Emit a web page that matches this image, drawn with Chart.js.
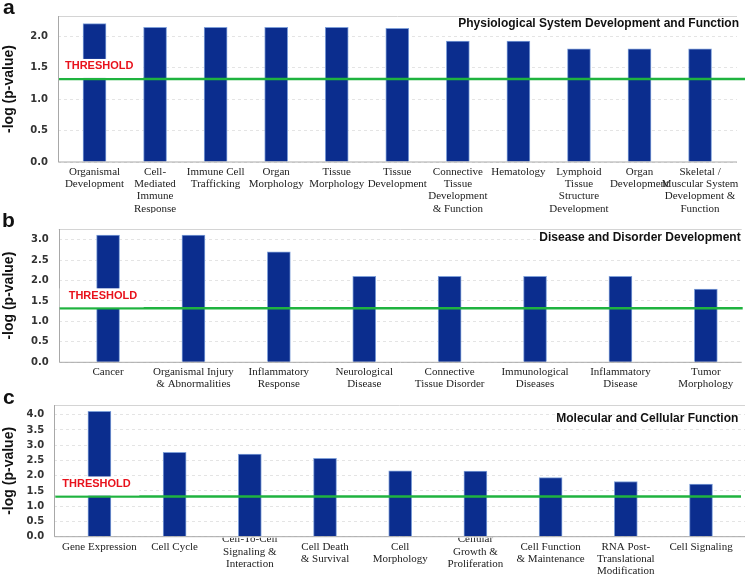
<!DOCTYPE html>
<html>
<head>
<meta charset="utf-8">
<title>-log (p-value) by category</title>
<script src="https://cdn.jsdelivr.net/npm/chart.js@4.4.1/dist/chart.umd.min.js"></script>
<style>
    html, body { margin: 0; padding: 0; background: #fff; }
    #wrap { position: relative; width: 750px; height: 579px; overflow: hidden; }
    canvas { position: absolute; left: 0; }
</style>
</head>
<body>
<div id="wrap">
    <canvas id="chartA" width="750" height="213" style="top:0px"></canvas>
    <canvas id="chartB" width="750" height="176" style="top:213px"></canvas>
    <canvas id="chartC" width="750" height="190" style="top:389px"></canvas>
</div>
<script>
// Dados
const physioLabels = [
    ['Organismal', 'Development'],
    ['Cell-', 'Mediated', 'Immune', 'Response'],
    ['Immune Cell', 'Trafficking'],
    ['Organ', 'Morphology'],
    ['Tissue', 'Morphology'],
    ['Tissue', 'Development'],
    ['Connective', 'Tissue', 'Development', '& Function'],
    ['Hematology'],
    ['Lymphoid', 'Tissue', 'Structure', 'Development'],
    ['Organ', 'Development'],
    ['Skeletal /', 'Muscular System', 'Development &', 'Function']
];
const physioValues = [2.20, 2.14, 2.14, 2.14, 2.14, 2.125, 1.92, 1.92, 1.80, 1.80, 1.80];
const physioTicks = [0, 0.5, 1.0, 1.5, 2.0];

const diseaseLabels = [
    ['Cancer'],
    ['Organismal Injury', '& Abnormalities'],
    ['Inflammatory', 'Response'],
    ['Neurological', 'Disease'],
    ['Connective', 'Tissue Disorder'],
    ['Immunological', 'Diseases'],
    ['Inflammatory', 'Disease'],
    ['Tumor', 'Morphology']
];
const diseaseValues = [3.11, 3.11, 2.70, 2.10, 2.10, 2.10, 2.10, 1.79];
const diseaseTicks = [0, 0.5, 1.0, 1.5, 2.0, 2.5, 3.0];

const molecularLabels = [
    ['Gene Expression'],
    ['Cell Cycle'],
    ['Cell-To-Cell', 'Signaling &', 'Interaction'],
    ['Cell Death', '& Survival'],
    ['Cell', 'Morphology'],
    ['Cellular', 'Growth &', 'Proliferation'],
    ['Cell Function', '& Maintenance'],
    ['RNA Post-', 'Translational', 'Modification'],
    ['Cell Signaling']
];
const molecularValues = [4.11, 2.77, 2.71, 2.57, 2.16, 2.15, 1.94, 1.81, 1.73];
const molecularTicks = [0, 0.5, 1.0, 1.5, 2.0, 2.5, 3.0, 3.5, 4.0];

const thresholdValue = 1.32;

// Desenho extra: moldura, limiar, títulos e rótulos do eixo x
const decorPlugin = {
    id: 'decor',
    afterDatasetsDraw(chart, args, opts) {
        const ctx = chart.ctx;
        const area = chart.chartArea;
        const y = chart.scales.y;

        ctx.save();
        // moldura
        ctx.lineWidth = 1;
        ctx.strokeStyle = '#d4d4d4';
        ctx.beginPath();
        ctx.moveTo(area.left, Math.round(area.top) + 0.5);
        ctx.lineTo(area.right, Math.round(area.top) + 0.5);
        ctx.stroke();
        ctx.strokeStyle = '#a8a8a8';
        ctx.beginPath();
        ctx.moveTo(Math.round(area.left) + 0.5, area.top);
        ctx.lineTo(Math.round(area.left) + 0.5, area.bottom);
        ctx.lineTo(area.right, area.bottom);
        ctx.stroke();

        // linha de limiar
        const ty = y.getPixelForValue(thresholdValue);
        ctx.strokeStyle = '#1fb33f';
        ctx.lineWidth = 2.5;
        ctx.beginPath();
        ctx.moveTo(area.left + 1, ty);
        ctx.lineTo(area.right + opts.lineExtra, ty);
        ctx.stroke();

        // caixa branca atrás do texto THRESHOLD
        ctx.fillStyle = '#ffffff';
        ctx.fillRect(area.left + 1, ty - 20, 84, 19);
        ctx.fillStyle = '#e8121c';
        ctx.font = 'bold 11px "Liberation Sans", Arial, sans-serif';
        ctx.textAlign = 'left';
        ctx.textBaseline = 'middle';
        ctx.fillText('THRESHOLD', area.left + opts.threshX, ty - 12.5);

        // título do painel
        ctx.fillStyle = '#111';
        ctx.font = 'bold 12px "Liberation Sans", Arial, sans-serif';
        ctx.textAlign = 'right';
        ctx.fillText(opts.title, opts.titleX, opts.titleY);

        // letra do painel
        ctx.font = 'bold 21px "Liberation Sans", Arial, sans-serif';
        ctx.textAlign = 'left';
        ctx.textBaseline = 'alphabetic';
        ctx.fillText(opts.letter, opts.letterX, opts.letterY);
        ctx.restore();
    },
    afterDraw(chart, args, opts) {
        const ctx = chart.ctx;
        const area = chart.chartArea;
        const x = chart.scales.x;
        const lineH = 12.3;

        ctx.save();
        ctx.font = '11px "Liberation Serif", "Times New Roman", serif';
        ctx.fillStyle = '#222';
        ctx.textAlign = 'center';
        ctx.textBaseline = 'middle';
        opts.labels.forEach((lines, i) => {
            const px = x.getPixelForValue(i);
            const raised = opts.raised.includes(i);
            const y0 = area.bottom + (raised ? 2.7 : 10);
            ctx.save();
            ctx.beginPath();
            ctx.rect(0, area.bottom + 1, chart.width, chart.height);
            ctx.clip();
            lines.forEach((line, k) => {
                ctx.fillText(line, px, y0 + k * lineH);
            });
            ctx.restore();
        });
        ctx.restore();
    }
};

function makePanel(canvasId, labels, values, ticks, panel) {
    const canvas = document.getElementById(canvasId);
    const a = panel.area;
    return new Chart(canvas, {
        type: 'bar',
        data: {
            datasets: [{
                data: values.map((v, i) => ({ x: i, y: v })),
                backgroundColor: '#0b2d8e',
                borderColor: '#7f9fd8',
                borderWidth: { left: 1, right: 1, top: 1, bottom: 0 },
                barThickness: 23
            }]
        },
        options: {
            responsive: false,
            animation: false,
            devicePixelRatio: 1,
            layout: {
                padding: {
                    left: 0,
                    top: a.top,
                    right: canvas.width - a.right,
                    bottom: canvas.height - a.bottom
                }
            },
            scales: {
                x: {
                    type: 'linear',
                    display: false,
                    offset: false,
                    min: panel.xMin,
                    max: panel.xMax
                },
                y: {
                    min: 0,
                    max: panel.yMax,
                    afterFit: (scale) => { scale.width = a.left; },
                    afterBuildTicks: (scale) => { scale.ticks = ticks.map(v => ({ value: v })); },
                    grid: { color: '#e4e4e4', drawTicks: false },
                    border: { display: false, dash: [3, 3] },
                    ticks: {
                        padding: 10,
                        color: '#333',
                        font: { family: '"DejaVu Sans", Verdana, sans-serif', size: 10, weight: 'bold' },
                        callback: (v) => Number(v).toFixed(1)
                    },
                    title: {
                        display: true,
                        text: '-log (p-value)',
                        color: '#111',
                        padding: { top: 1, bottom: 0 },
                        font: { family: '"Liberation Sans", Arial, sans-serif', size: 14, weight: 'bold' }
                    }
                }
            },
            plugins: {
                legend: { display: false },
                tooltip: { enabled: false },
                decor: {
                    labels: labels,
                    raised: panel.raised,
                    title: panel.title,
                    titleX: panel.titleX,
                    titleY: panel.titleY,
                    letter: panel.letter,
                    letterX: panel.letterX,
                    letterY: panel.letterY,
                    lineExtra: panel.lineExtra,
                    threshX: panel.threshX
                }
            }
        },
        plugins: [decorPlugin]
    });
}

makePanel('chartA', physioLabels, physioValues, physioTicks, {
    area: { left: 58, top: 13, right: 737, bottom: 162 },
    yMax: 2.32, xMin: -0.603, xMax: 10.61,
    title: 'Physiological System Development and Function', titleX: 739, titleY: 24,
    letter: 'a', letterX: 3, letterY: 14,
    lineExtra: 8, threshX: 7, raised: []
});

makePanel('chartB', diseaseLabels, diseaseValues, diseaseTicks, {
    area: { left: 58.7, top: 11, right: 741.7, bottom: 149.3 },
    yMax: 3.26, xMin: -0.578, xMax: 7.42,
    title: 'Disease and Disorder Development', titleX: 740.7, titleY: 24.7,
    letter: 'b', letterX: 2, letterY: 14,
    lineExtra: 1, threshX: 10, raised: []
});

makePanel('chartC', molecularLabels, molecularValues, molecularTicks, {
    area: { left: 54.3, top: 14.3, right: 745, bottom: 147.7 },
    yMax: 4.32, xMin: -0.6, xMax: 8.585,
    title: 'Molecular and Cellular Function', titleX: 738.3, titleY: 29.3,
    letter: 'c', letterX: 3, letterY: 15,
    lineExtra: -4, threshX: 8, raised: [2, 5]
});
</script>
</body>
</html>
